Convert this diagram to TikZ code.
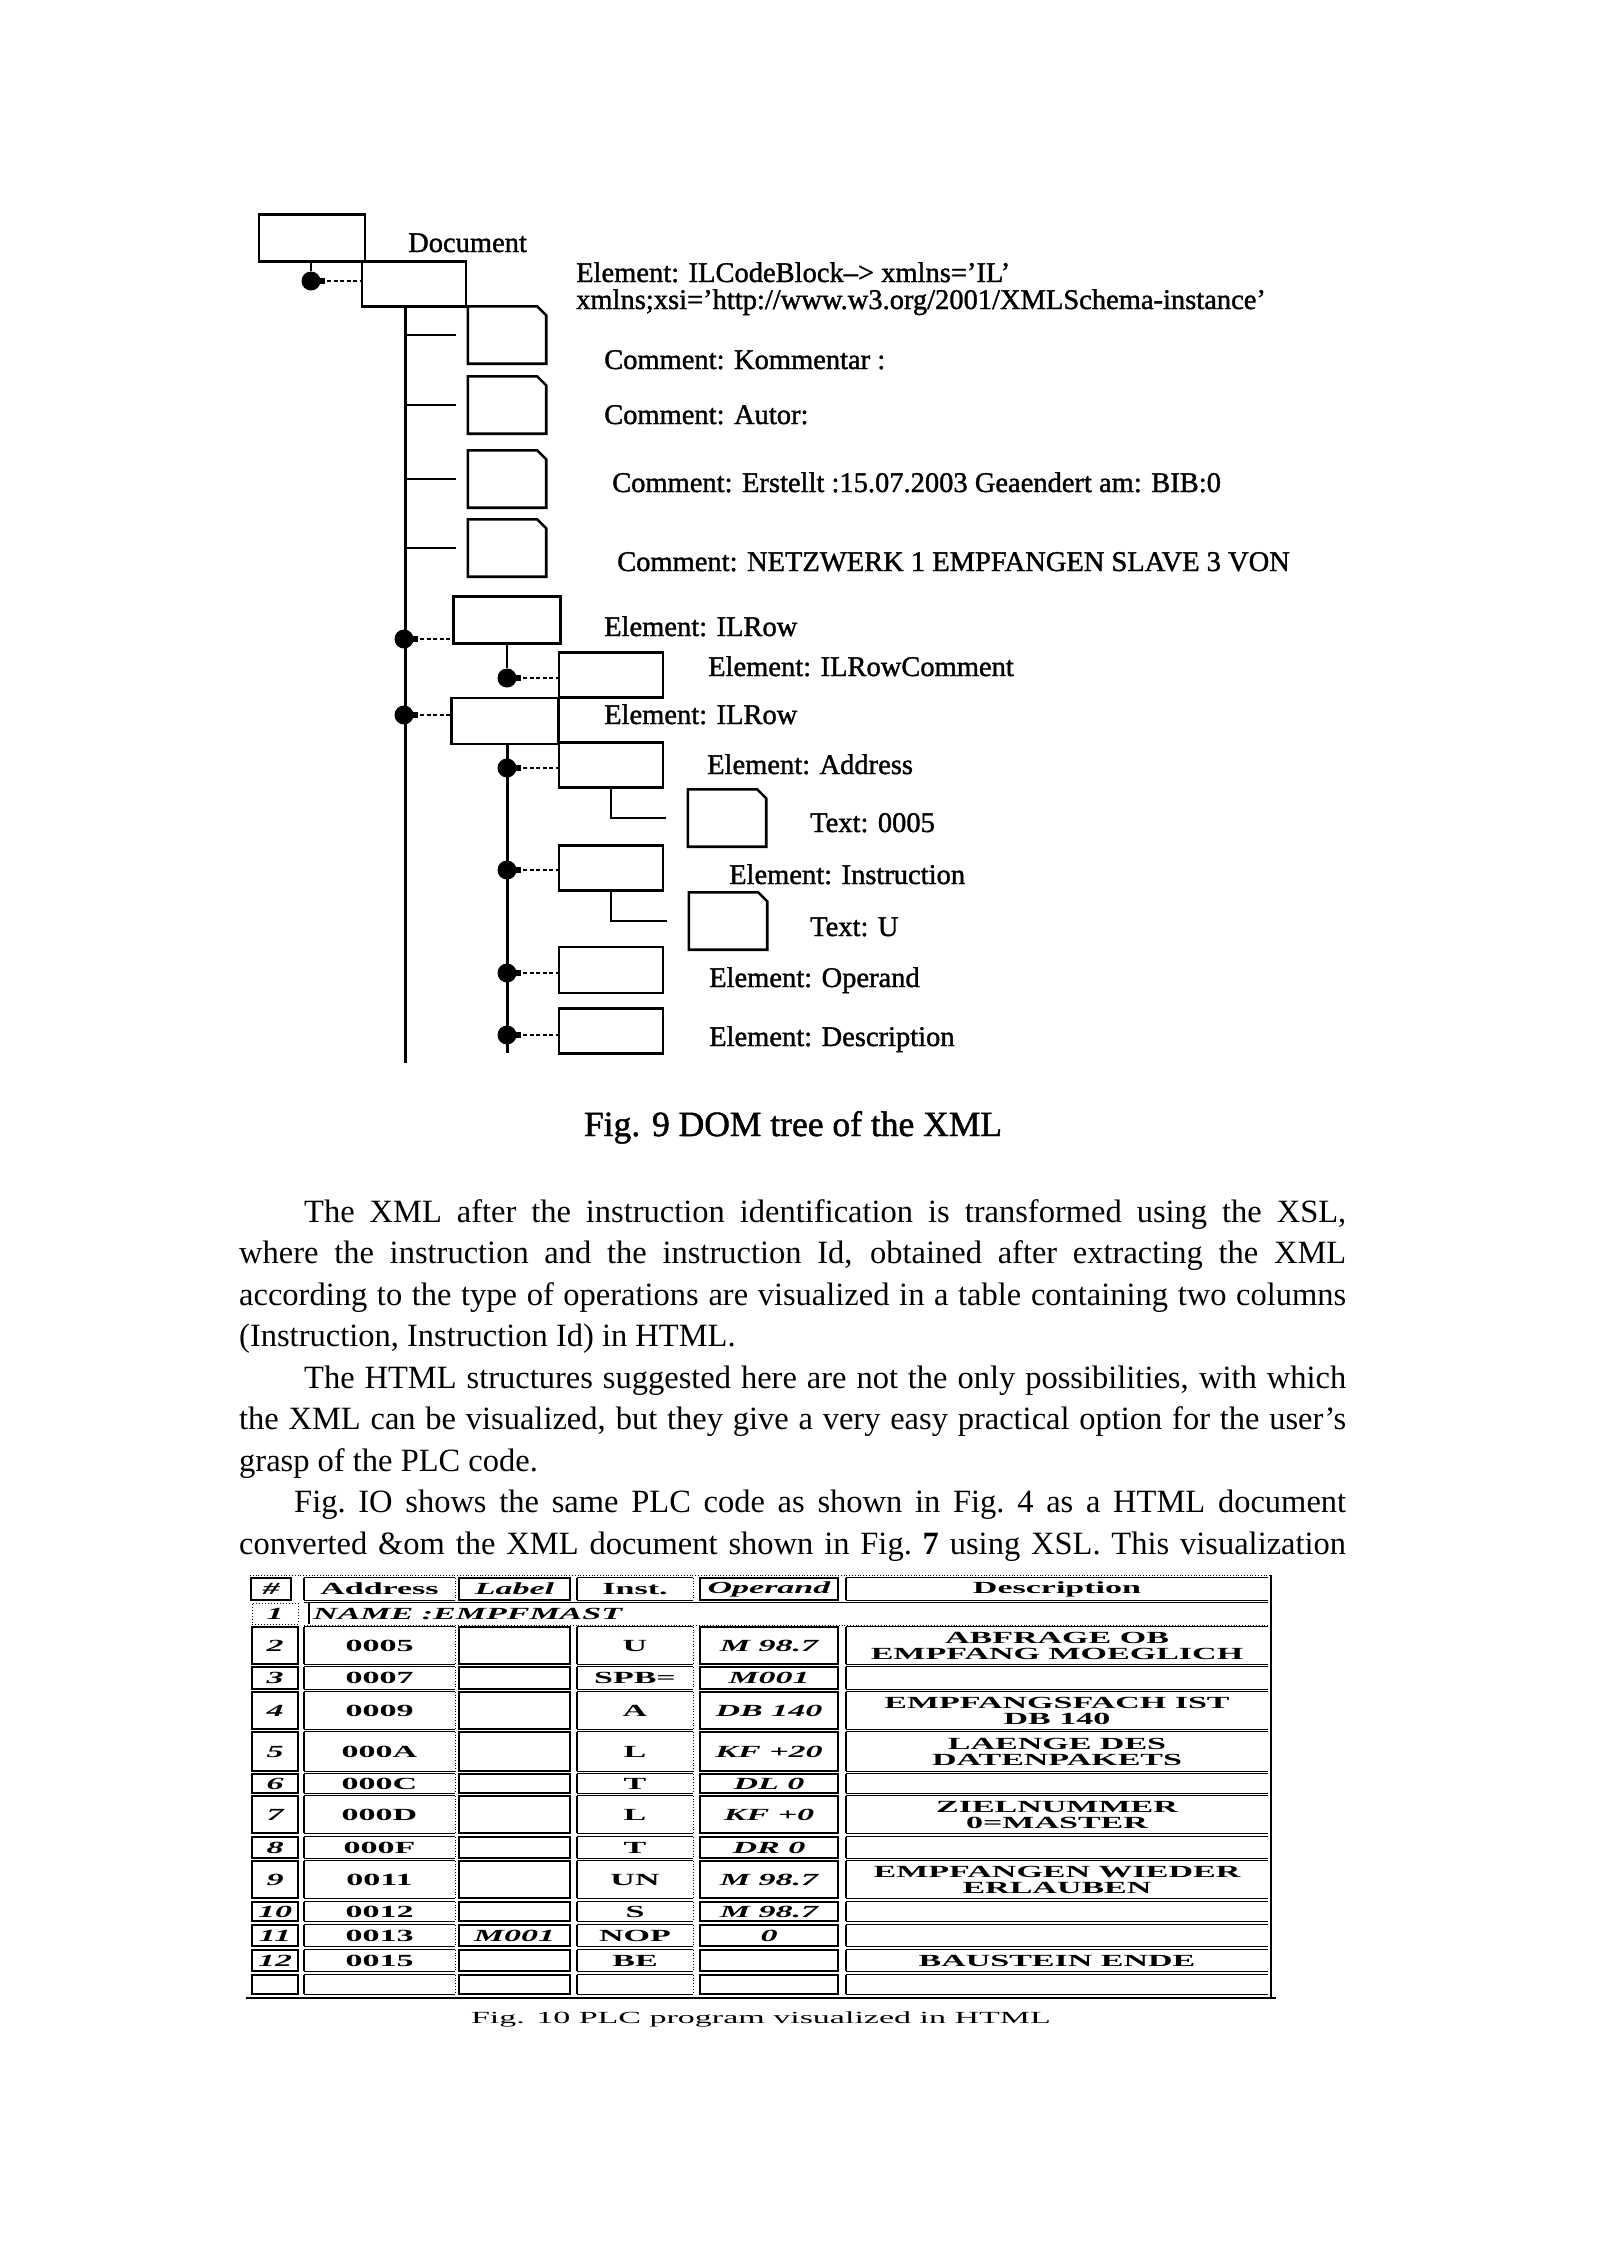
\documentclass[tikz,border=0pt]{standalone}
\usepackage{fontspec}
\setmainfont{Liberation Serif}
\newfontfamily\scanfont[Ligatures=TeX, FakeBold=1.3]{Liberation Serif}
\newfontfamily\tabfont[Ligatures=TeX, FakeStretch=2.0]{Liberation Serif}
\usetikzlibrary{shapes.geometric, positioning, calc}

\begin{document}
\begin{tikzpicture}[x=1pt, y=-1pt,
  elbox/.style={draw, line width=2.6pt, minimum width=104pt, minimum height=45pt, inner sep=0pt},
  docbox/.style={minimum width=78pt, minimum height=57pt, inner sep=0pt},
  blob/.style={circle, fill, inner sep=0pt, minimum size=19pt},
  link/.style={line width=1.3pt, dash pattern=on 4pt off 2.5pt},
  twig/.style={line width=1.2pt},
  trunk/.style={line width=3pt},
  lab/.style={anchor=base west, inner sep=0pt, font=\scanfont\fontsize{28.5}{34}\selectfont},
  body/.style={anchor=base west, inner sep=0pt, font=\fontsize{32.5}{42}\selectfont},
  tab/.style={inner sep=0pt, align=center, font=\tabfont\fontsize{17}{16}\selectfont\bfseries},
  cell/.style={tab, draw, line width=2.2pt},
  bar/.style={line width=2.4pt},
  rule/.style={line width=0.8pt},
]
\useasboundingbox (0,0) rectangle (1598,2246);
\fill[white] (0,0) rectangle (1598,2246);

% Root and code block
\node[elbox, minimum width=106pt, minimum height=47pt] (doc) at (312,238) {};
\node[lab] (doclab) at (408,252) {Document};
\node[blob] (b0) at (311,281) {};
\node[elbox] (cb) at (414,284) {};
\node[lab] (cbline1) at (576,282) {Element: ILCodeBlock--> xmlns='IL'};
\node[lab] (cbline2) at (576,309) {xmlns;xsi='http://www.w3.org/2001/XMLSchema-instance'};
\draw[twig] (doc.south -| b0) -- (b0);
\draw[link] (b0.east) -- (b0.east -| cb.west);

% Trunk with the four comments
\coordinate (ttop) at (405,307);
\coordinate (tbot) at (405,1063);
\draw[trunk] (ttop) -- (tbot);
\node[docbox] (c1) at (507,335) {};
\node[docbox] (c2) at (507,405) {};
\node[docbox] (c3) at (507,479) {};
\node[docbox] (c4) at (507,548) {};
\foreach \c in {c1,c2,c3,c4}
  \draw[twig] (\c.west -| ttop) -- ([xshift=-12pt]\c.west);
\node[lab] (k1) at (604,369) {Comment: Kommentar :};
\node[lab] (k2) at (604,424) {Comment: Autor:};
\node[lab] (k3) at (612,492) {Comment: Erstellt :15.07.2003 Geaendert am: BIB:0};
\node[lab] (k4) at (617,571) {Comment: NETZWERK 1 EMPFANGEN SLAVE 3 VON};

% First ILRow and its comment
\node[elbox, minimum width=107pt, minimum height=47pt] (row1) at (507,620) {};
\node[blob] (b1) at (404,639) {};
\draw[link] (b1.east) -- (b1.east -| row1.west);
\node[lab] (row1lab) at (604,636) {Element: ILRow};
\node[elbox] (rcom) at (611,675) {};
\node[blob] (b2) at (507,678) {};
\draw[twig, line width=2pt] (row1.south -| b2) -- (b2);
\draw[link] (b2.east) -- (b2.east -| rcom.west);
\node[lab] (rcomlab) at (708,676) {Element: ILRowComment};

% Second ILRow and its children
\node[elbox, minimum width=107pt, minimum height=46pt] (row2) at (505,721) {};
\node[blob] (b3) at (404,715) {};
\draw[link] (b3.east) -- (b3.east -| row2.west);
\node[lab] (row2lab) at (604,724) {Element: ILRow};
\coordinate (sbot) at (507,1053);
\draw[trunk] (row2.south -| sbot) -- (sbot);

\node[elbox] (adr) at (611,765) {};
\node[blob] (b4) at (507,768) {};
\draw[link] (b4.east) -- (b4.east -| adr.west);
\node[lab] (adrlab) at (707,774) {Element: Address};
\node[docbox] (t1) at (727,818) {};
\draw[twig] (adr.south) |- ([xshift=-22pt]t1.west);
\node[lab] (t1lab) at (810,832) {Text: 0005};

\node[elbox] (ins) at (611,868) {};
\node[blob] (b5) at (507,870) {};
\draw[link] (b5.east) -- (b5.east -| ins.west);
\node[lab] (inslab) at (729,884) {Element: Instruction};
\node[docbox] (t2) at (728,921) {};
\draw[twig] (ins.south) |- ([xshift=-22pt]t2.west);
\node[lab] (t2lab) at (810,936) {Text: U};

\node[elbox, minimum height=46pt] (opd) at (611,970) {};
\node[blob] (b6) at (507,973) {};
\draw[link] (b6.east) -- (b6.east -| opd.west);
\node[lab] (opdlab) at (709,987) {Element: Operand};

\node[elbox] (dsc) at (611,1031) {};
\node[blob] (b7) at (507,1035) {};
\draw[link] (b7.east) -- (b7.east -| dsc.west);
\node[lab] (dsclab) at (709,1046) {Element: Description};

% page outlines with a folded corner
\foreach \c in {c1,c2,c3,c4,t1,t2}
  \draw[line width=2.6pt, line join=miter] (\c.south west) -- (\c.north west) -- ([xshift=-9pt]\c.north east)
    -- ([yshift=-9pt]\c.north east) -- (\c.south east) -- cycle;

% nubs on the blobs
\foreach \b in {b0,b1,b2,b3,b4,b5,b6,b7}
  \draw[line width=6pt] (\b.center) -- ([xshift=4pt]\b.east);

% Caption of the tree
\node[anchor=base, inner sep=0pt, font=\scanfont\fontsize{35.5}{40}\selectfont] (cap9) at (793,1136) {Fig. 9 DOM tree of the XML};

% Running text
\node[body] (p1) at (304,1222) {\makebox[1042pt][s]{The XML after the instruction identification is transformed using the XSL,}};
\node[body] (p2) at (239,1263.5) {\makebox[1107pt][s]{where the instruction and the instruction Id, obtained after extracting the XML}};
\node[body] (p3) at (239,1305) {\makebox[1107pt][s]{according to the type of operations are visualized in a table containing two columns}};
\node[body] (p4) at (239,1346.5) {(Instruction, Instruction Id) in HTML.};
\node[body] (p5) at (304,1388) {\makebox[1042pt][s]{The HTML structures suggested here are not the only possibilities, with which}};
\node[body] (p6) at (239,1429.5) {\makebox[1107pt][s]{the XML can be visualized, but they give a very easy practical option for the user's}};
\node[body] (p7) at (239,1471) {grasp of the PLC code.};
\node[body] (p8) at (294,1512.5) {\makebox[1052pt][s]{Fig.\ IO shows the same PLC code as shown in Fig.\ 4 as a HTML document}};
\node[body] (p9) at (239,1554) {\makebox[1107pt][s]{converted \&om the XML document shown in Fig.\ \textbf{7} using XSL. This visualization}};

% Table: header
\draw[rule, dotted] (250,1575) -- (1270,1575);
\node[cell, minimum width=40pt, minimum height=22pt] (hn) at (271,1589) {\itshape\#};
\node[tab, minimum width=151pt, minimum height=22pt] (ha) at (379.5,1589) {Address};
\node[cell, minimum width=111pt, minimum height=22pt] (hl) at (514.5,1589) {\itshape Label};
\node[tab, minimum width=116pt, minimum height=22pt] (hi) at (635,1589) {Inst.};
\node[cell, minimum width=138pt, minimum height=22pt] (ho) at (769,1589) {\itshape Operand};
\node[tab, minimum width=422pt, minimum height=22pt] (hd) at (1057,1589) {Description};
\foreach \q in {ha,hi,hd} {
  \draw[bar] (\q.north west) -- (\q.south west);
  \draw[rule] (\q.north west) -- (\q.north east) (\q.south west) -- (\q.south east);
}
\draw[rule, dotted] (ha.north east) -- (ha.south east) (hi.north east) -- (hi.south east);

% Table: name row
\node[tab, draw, dotted, line width=1pt, minimum width=46pt, minimum height=21pt] (n1) at (275,1613.5) {\itshape 1};
\node[tab, anchor=west, minimum height=21pt] (name) at (313,1613.5) {\itshape NAME :EMPFMAST};
\draw[bar] ([xshift=-4pt]name.north west) -- ([xshift=-4pt]name.south west);
\draw[rule] (304,1602) -- (1268,1602);
\draw[rule, dotted] (304,1625) -- (1268,1625);

% Table: program rows
\foreach \k/\yc/\rh/\adr/\lbl/\ist/\opd/\dsc in {
  2/1645.5/37/0005/{}/U/M 98.7/{ABFRAGE OB\\EMPFANG MOEGLICH},
  3/1678/22/0007/{}/SPB=/M001/{},
  4/1710.5/37/0009/{}/A/DB 140/{EMPFANGSFACH IST\\DB 140},
  5/1751.5/39/000A/{}/L/KF +20/{LAENGE DES\\DATENPAKETS},
  6/1783.5/19/000C/{}/T/DL 0/{},
  7/1814.5/37/000D/{}/L/KF +0/{ZIELNUMMER\\0=MASTER},
  8/1847.5/21/000F/{}/T/DR 0/{},
  9/1879.5/37/0011/{}/UN/M 98.7/{EMPFANGEN WIEDER\\ERLAUBEN},
  10/1911.5/19/0012/{}/S/M 98.7/{},
  11/1935.5/21/0013/M001/NOP/0/{},
  12/1960.5/21/0015/{}/BE/{}/BAUSTEIN ENDE,
  13/1984.5/19/{}/{}/{}/{}/{}%
}{
  \node[cell, minimum width=46pt, minimum height=\rh pt] (n\k) at (275,\yc) {\itshape\ifnum\k<13 \k\fi};
  \node[tab, minimum width=151pt, minimum height=\rh pt] (a\k) at (379.5,\yc) {\adr};
  \node[cell, minimum width=111pt, minimum height=\rh pt] (l\k) at (514.5,\yc) {\itshape\lbl};
  \node[tab, minimum width=116pt, minimum height=\rh pt] (i\k) at (635,\yc) {\ist};
  \node[cell, minimum width=138pt, minimum height=\rh pt] (o\k) at (769,\yc) {\itshape\opd};
  \node[tab, minimum width=422pt, minimum height=\rh pt] (d\k) at (1057,\yc) {\dsc};
  \foreach \q in {a\k,i\k,d\k} {
    \draw[bar] (\q.north west) -- (\q.south west);
    \draw[rule] (\q.north west) -- (\q.north east) (\q.south west) -- (\q.south east);
  }
  \draw[rule, dotted] (a\k.north east) -- (a\k.south east) (i\k.north east) -- (i\k.south east);
}

% Table frame and caption
\draw[bar] (1271,1575) -- (1271,1998);
\draw[line width=2pt] (246,1998) -- (1276,1998);
\node[tab, anchor=base, font=\tabfont\fontsize{17}{15}\selectfont] (cap10) at (761,2023) {Fig. 10 PLC program visualized in HTML};
\end{tikzpicture}
\end{document}
